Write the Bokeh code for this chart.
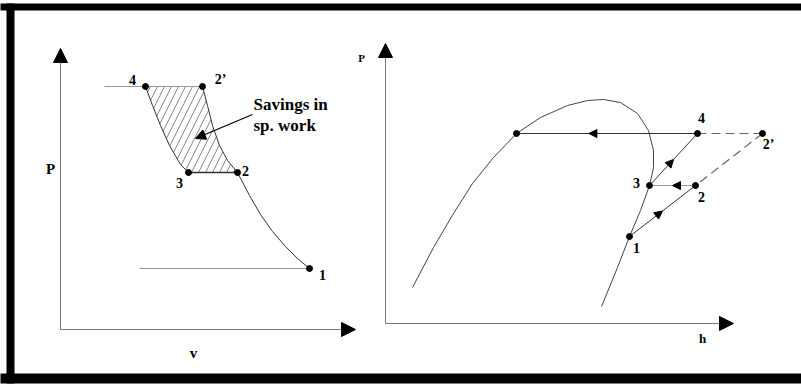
from bokeh.plotting import figure
from bokeh.models import Range1d, Arrow, NormalHead
from bokeh.core.properties import value
from bokeh.embed import file_html
from bokeh.resources import INLINE

# ---------------- P-v diagram (left) ----------------
pv_state_names = ["1", "2", "3", "4", "2\u2019"]
pv_v = [249, 177, 128, 85, 142]
pv_p = [61, 157, 157, 243, 243]
pv_label_v = [262, 185, 119, 72, 160]
pv_label_p = [55, 159, 147, 250, 250]

pv_curve_43_v = [85, 92, 100, 109, 120, 128]
pv_curve_43_p = [243, 224, 204, 184, 165, 157]
pv_curve_22p_v = [142, 147, 152, 159, 167, 177]
pv_curve_22p_p = [243, 224, 204, 184, 169, 157]
pv_curve_21_v = [177, 189, 200, 212, 225, 237, 249]
pv_curve_21_p = [157, 134, 115, 98, 83, 71, 61]

pv_high_isobar_v = [44, 142]
pv_high_isobar_p = [243, 243]
pv_low_isobar_v = [79, 249]
pv_low_isobar_p = [61, 61]

pv_axis_v_max = 295
pv_axis_p_max = 281
pv_note = ["Savings in", "sp. work"]
pv_note_v = [193, 193]
pv_note_p = [225, 204]
pv_note_arrow = [(192, 215), (135, 191)]

# ---------------- P-h diagram (right) ----------------
ph_state_names = ["1", "2", "3", "4", "2\u2019"]
ph_h = [244, 310, 264, 312, 377]
ph_p = [87, 138, 138, 190, 190]
ph_label_h = [251, 316, 251, 316, 383]
ph_label_p = [76, 127, 141, 206, 179]
ph_liquid_h = 131
ph_liquid_p = 190

dome_h = [27, 48, 68, 87, 108, 131, 155, 182, 202, 218, 235, 252, 263, 268,
          268, 264, 255, 244, 232, 216]
dome_p = [36, 76, 110, 140, 166, 190, 206, 218, 223, 224, 221, 210, 193, 173,
          156, 138, 113, 87, 56, 17]

ph_axis_h_max = 348
ph_axis_p_max = 280

SERIF = value("Liberation Serif")

p = figure(width=801, height=385, x_range=Range1d(-60, 741), y_range=Range1d(-56, 329),
           output_backend="svg", toolbar_location=None,
           x_axis_type=None, y_axis_type=None, min_border=0,
           outline_line_color=None, background_fill_color="white",
           border_fill_color="white")
p.grid.visible = False
p.extra_x_ranges = {"ph": Range1d(-385, 416)}
p.extra_y_ranges = {"ph": Range1d(-62, 323)}
RH = dict(x_range_name="ph", y_range_name="ph")

# frame: top, bottom and left bars
p.quad(left=[-100, -100, -54], right=[800, 800, -46],
       bottom=[319, -54, -54], top=[326, -44, 326],
       fill_color="black", line_color=None)


def add_axes(xmax, ymax, **kw):
    p.add_layout(Arrow(end=NormalHead(size=14, fill_color="black", line_color="black"),
                       x_start=0, y_start=0, x_end=0, y_end=ymax,
                       line_color="#777777", line_width=1, **kw))
    p.add_layout(Arrow(end=NormalHead(size=14, fill_color="black", line_color="black"),
                       x_start=0, y_start=0, x_end=xmax, y_end=0,
                       line_color="#777777", line_width=1, **kw))


# ---- left panel ----
add_axes(pv_axis_v_max, pv_axis_p_max)

hatch_v = pv_curve_22p_v + pv_curve_43_v[::-1]
hatch_p = pv_curve_22p_p + pv_curve_43_p[::-1]
p.patch(hatch_v, hatch_p, fill_alpha=0, line_alpha=0,
        hatch_pattern="/", hatch_color="#555555", hatch_scale=14, hatch_weight=0.7)

p.line(pv_high_isobar_v, pv_high_isobar_p, line_color="#999999", line_width=1.2)
p.line(pv_low_isobar_v, pv_low_isobar_p, line_color="#999999", line_width=1.2)
p.line([pv_v[2], pv_v[1]], [pv_p[2], pv_p[1]], line_color="#333333", line_width=1.3)
p.line(pv_curve_43_v, pv_curve_43_p, line_color="#333333", line_width=1)
p.line(pv_curve_22p_v, pv_curve_22p_p, line_color="#333333", line_width=1)
p.line(pv_curve_21_v, pv_curve_21_p, line_color="#333333", line_width=1)
p.scatter(pv_v, pv_p, size=6, color="black")

p.add_layout(Arrow(end=NormalHead(size=10, fill_color="black", line_color="black"),
                   x_start=pv_note_arrow[0][0], y_start=pv_note_arrow[0][1],
                   x_end=pv_note_arrow[1][0], y_end=pv_note_arrow[1][1],
                   line_color="black", line_width=1.2))

p.text(pv_label_v, pv_label_p, text=pv_state_names, text_font=SERIF,
       text_font_style="bold", text_font_size="14px",
       text_align="center", text_baseline="middle", text_color="black")
p.text(pv_note_v, pv_note_p, text=pv_note, text_font=SERIF,
       text_font_style="bold", text_font_size="17px",
       text_align="left", text_baseline="middle", text_color="black")
p.text([-10], [161], text=["P"], text_font=SERIF, text_font_style="bold",
       text_font_size="15px", text_align="center", text_baseline="middle")
p.text([133], [-23], text=["v"], text_font=SERIF, text_font_style="bold",
       text_font_size="15px", text_align="center", text_baseline="middle")

# ---- right panel ----
add_axes(ph_axis_h_max, ph_axis_p_max, **RH)

p.line(dome_h, dome_p, line_color="#444444", line_width=1, **RH)

# condensation line 4 -> saturated liquid
p.line([ph_h[3], ph_liquid_h], [ph_p[3], ph_liquid_p], line_color="#333333", line_width=1.2, **RH)
# dashed single-stage path
p.line([ph_h[3], ph_h[4]], [ph_p[3], ph_p[4]], line_color="#666666", line_width=1.2,
       line_dash="9 5", **RH)
p.line([ph_h[4], ph_h[1]], [ph_p[4], ph_p[1]], line_color="#666666", line_width=1.2,
       line_dash="9 5", **RH)
# two-stage path
p.line([ph_h[0], ph_h[1]], [ph_p[0], ph_p[1]], line_color="#333333", line_width=1, **RH)
p.line([ph_h[1], ph_h[2]], [ph_p[1], ph_p[2]], line_color="#999999", line_width=1.2, **RH)
p.line([ph_h[2], ph_h[3]], [ph_p[2], ph_p[3]], line_color="#333333", line_width=1, **RH)


def mid_arrow(a, b, frac=0.5):
    xe = a[0] + (b[0] - a[0]) * frac
    ye = a[1] + (b[1] - a[1]) * frac
    p.add_layout(Arrow(end=NormalHead(size=8, fill_color="black", line_color="black"),
                       x_start=a[0], y_start=a[1], x_end=xe, y_end=ye,
                       line_alpha=0, **RH))


pts = list(zip(ph_h, ph_p))
mid_arrow(pts[0], pts[1])
mid_arrow(pts[1], pts[2])
mid_arrow(pts[2], pts[3])
mid_arrow(pts[3], (ph_liquid_h, ph_liquid_p), 0.6)

p.scatter(ph_h + [ph_liquid_h], ph_p + [ph_liquid_p], size=6, color="black", **RH)
p.text(ph_label_h, ph_label_p, text=ph_state_names, text_font=SERIF,
       text_font_style="bold", text_font_size="14px",
       text_align="center", text_baseline="middle", text_color="black", **RH)
p.text([-24], [266], text=["P"], text_font=SERIF, text_font_style="bold",
       text_font_size="11px", text_align="center", text_baseline="middle", **RH)
p.text([317], [-15], text=["h"], text_font=SERIF, text_font_style="bold",
       text_font_size="13px", text_align="center", text_baseline="middle", **RH)

open("out.html", "w").write(file_html(p, INLINE))
